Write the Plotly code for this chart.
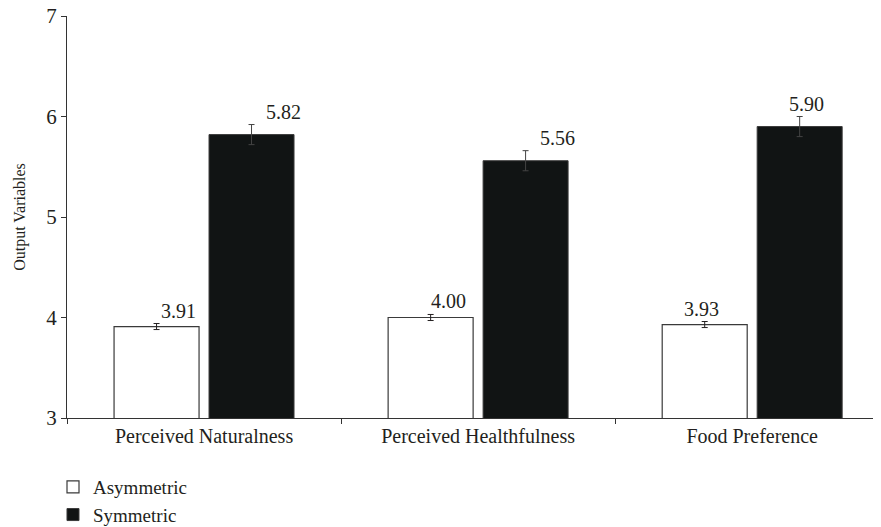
import plotly.graph_objects as go

categories = ["Perceived Naturalness", "Perceived Healthfulness", "Food Preference"]
asym_values = [3.91, 4.00, 3.93]
sym_values = [5.82, 5.56, 5.90]
asym_err = [0.03, 0.03, 0.03]
sym_err = [0.10, 0.10, 0.10]
asym_labels = ["3.91", "4.00", "3.93"]
sym_labels = ["5.82", "5.56", "5.90"]
y_ticks = [3, 4, 5, 6, 7]

FONT = "Liberation Serif"
TXT = "#231f20"

fig = go.Figure()
fig.add_trace(go.Bar(
    name="Asymmetric", x=categories, y=asym_values,
    marker=dict(color="white", line=dict(color="#3a3a3a", width=1.2)),
    error_y=dict(type="data", array=asym_err, color="#231f20", thickness=1, width=3),
))
fig.add_trace(go.Bar(
    name="Symmetric", x=categories, y=sym_values,
    marker=dict(color="#111414", line=dict(color="#3a3a3a", width=1)),
    error_y=dict(type="data", array=sym_err, color="#444444", thickness=1, width=3),
))

asym_shift = [-26, -30, -51]
sym_shift = [79, 79, 54]
for i, c in enumerate(categories):
    fig.add_annotation(x=c, y=asym_values[i] + asym_err[i], xref="x", yref="y",
                       text=asym_labels[i], showarrow=False, yanchor="bottom",
                       xshift=asym_shift[i], yshift=0,
                       font=dict(family=FONT, size=20, color=TXT))
    fig.add_annotation(x=c, y=sym_values[i] + sym_err[i], xref="x", yref="y",
                       text=sym_labels[i], showarrow=False, yanchor="bottom",
                       xshift=sym_shift[i], yshift=0,
                       font=dict(family=FONT, size=20, color=TXT))

fig.update_layout(
    width=873, height=519,
    margin=dict(l=59, r=0, t=8, b=109, autoexpand=False),
    paper_bgcolor="white", plot_bgcolor="white",
    barmode="group", bargap=0.307, bargroupgap=0.105,
    font=dict(family=FONT, size=16, color=TXT),
    showlegend=True,
    legend=dict(orientation="v", x=-0.0172, y=-0.1244, xanchor="left", yanchor="top",
                font=dict(family=FONT, size=19, color=TXT),
                tracegroupgap=0, itemwidth=30, bgcolor="rgba(0,0,0,0)"),
)
fig.update_xaxes(
    range=[-0.5, 2.47], showline=True, linecolor="#333333", linewidth=1,
    ticks="outside", tickson="boundaries", ticklen=5, tickcolor="#333333",
    showgrid=False, zeroline=False, automargin=False,
    tickfont=dict(family=FONT, size=20, color=TXT),
)
fig.update_yaxes(
    range=[3, 7], tickvals=y_ticks, showline=True, linecolor="#333333", linewidth=1,
    ticks="outside", ticklen=5, tickcolor="#333333", showgrid=False, zeroline=False,
    automargin=False, ticklabeloverflow="allow",
    tickfont=dict(family=FONT, size=21, color=TXT),
    title=dict(text="Output Variables", font=dict(family=FONT, size=16, color=TXT), standoff=16),
)

fig.write_html("out.html")
